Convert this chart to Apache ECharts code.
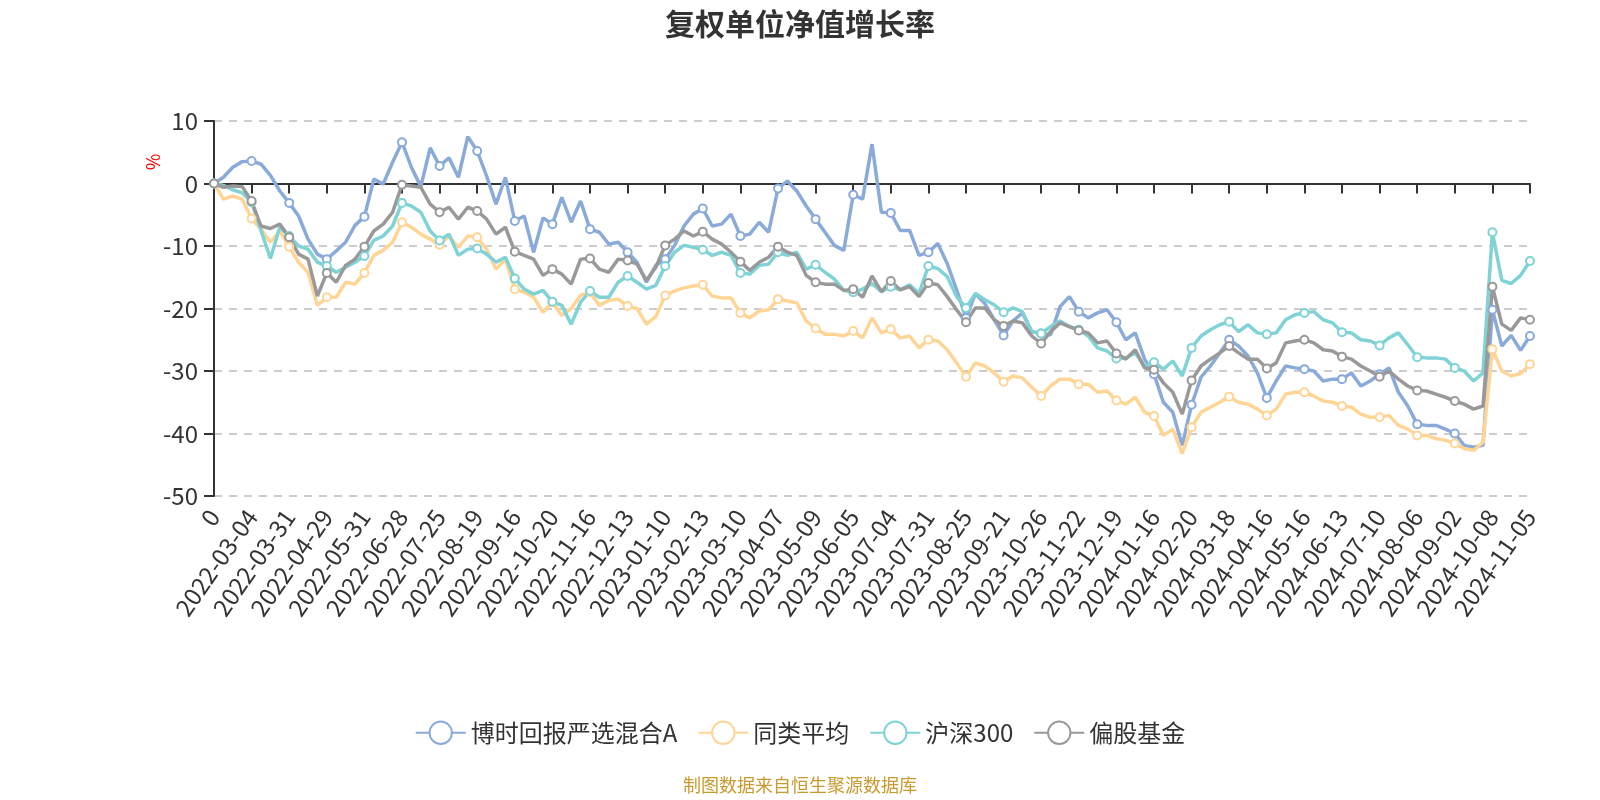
<!DOCTYPE html>
<html>
<head>
<meta charset="utf-8">
<title>复权单位净值增长率</title>
<script src="https://cdn.jsdelivr.net/npm/echarts@6/dist/echarts.min.js"></script>
<style>
  html, body { margin: 0; padding: 0; background: #fff; }
  #chart { width: 1600px; height: 800px; }
</style>
</head>
<body>
<div id="chart"></div>
<script>
// trading dates, roughly one a week; every 4th one is an axis label
var dates = [
  '0', '2022-02-11', '2022-02-18', '2022-02-25',
  '2022-03-04', '2022-03-11', '2022-03-18', '2022-03-25',
  '2022-03-31', '2022-04-08', '2022-04-15', '2022-04-22',
  '2022-04-29', '2022-05-12', '2022-05-18', '2022-05-25',
  '2022-05-31', '2022-06-08', '2022-06-15', '2022-06-21',
  '2022-06-28', '2022-07-05', '2022-07-12', '2022-07-18',
  '2022-07-25', '2022-07-29', '2022-08-05', '2022-08-12',
  '2022-08-19', '2022-08-26', '2022-09-01', '2022-09-08',
  '2022-09-16', '2022-09-23', '2022-09-30', '2022-10-13',
  '2022-10-20', '2022-10-27', '2022-11-03', '2022-11-09',
  '2022-11-16', '2022-11-22', '2022-11-29', '2022-12-06',
  '2022-12-13', '2022-12-20', '2022-12-27', '2023-01-04',
  '2023-01-10', '2023-01-17', '2023-01-30', '2023-02-06',
  '2023-02-13', '2023-02-17', '2023-02-24', '2023-03-03',
  '2023-03-10', '2023-03-16', '2023-03-23', '2023-03-30',
  '2023-04-07', '2023-04-14', '2023-04-21', '2023-04-27',
  '2023-05-09', '2023-05-15', '2023-05-22', '2023-05-29',
  '2023-06-05', '2023-06-12', '2023-06-19', '2023-06-28',
  '2023-07-04', '2023-07-11', '2023-07-18', '2023-07-25',
  '2023-07-31', '2023-08-07', '2023-08-11', '2023-08-18',
  '2023-08-25', '2023-09-01', '2023-09-07', '2023-09-14',
  '2023-09-21', '2023-09-28', '2023-10-13', '2023-10-19',
  '2023-10-26', '2023-11-02', '2023-11-08', '2023-11-15',
  '2023-11-22', '2023-11-29', '2023-12-05', '2023-12-12',
  '2023-12-19', '2023-12-26', '2024-01-02', '2024-01-09',
  '2024-01-16', '2024-01-23', '2024-01-30', '2024-02-06',
  '2024-02-20', '2024-02-27', '2024-03-04', '2024-03-11',
  '2024-03-18', '2024-03-25', '2024-04-01', '2024-04-09',
  '2024-04-16', '2024-04-23', '2024-04-30', '2024-05-09',
  '2024-05-16', '2024-05-23', '2024-05-30', '2024-06-06',
  '2024-06-13', '2024-06-20', '2024-06-27', '2024-07-03',
  '2024-07-10', '2024-07-17', '2024-07-23', '2024-07-30',
  '2024-08-06', '2024-08-13', '2024-08-19', '2024-08-26',
  '2024-09-02', '2024-09-09', '2024-09-13', '2024-09-24',
  '2024-10-08', '2024-10-15', '2024-10-22', '2024-10-29',
  '2024-11-05'
];

// 博时回报严选混合A
var fundA = [
  0, 1, 2.6, 3.5, 3.6, 3.1, 1.3, -1.2, -3.1, -5.2, -8.9, -11.3, -12.1, -10.8, -9.4, -6.7, -5.3, 0.7, -0.1, 3.4, 6.6, 2.6, -0.5, 5.7, 2.8,
  4.1, 1, 7.5, 5.2, 1.2, -3.3, 1, -6, -5.2, -11, -5.5, -6.5, -2.2, -6.2, -2.8, -7.3, -7.8, -9.7, -9.4, -11, -12.6, -15.8, -13.1,
  -12.1, -9.9, -6.8, -4.9, -4, -6.8, -6.5, -4.9, -8.4, -8.1, -6.2, -7.8, -0.8, 0.4, -1.2, -3.6, -5.7, -7.8, -9.9, -10.7, -1.8, -2.5, 6.3,
  -4.6, -4.7, -7.5, -7.5, -11.5, -11, -9.6, -12.8, -17, -21.5, -17.6, -19.2, -21.8, -24.3, -22, -20.7, -23.7, -24, -24.2, -19.7, -18.1, -20.5, -21.5,
  -20.7, -20.2, -22.2, -25, -23.9, -28.1, -30.5, -35, -36.6, -41.9, -35.4, -31, -29.2, -27.1, -25, -26, -27.6, -30.3, -34.3, -31.6, -29.2, -29.5,
  -29.7, -30, -31.6, -31.3, -31.3, -30.3, -32.4, -31.6, -30.5, -29.5, -33.4, -35.6, -38.5, -38.7, -38.7, -39.3, -40, -41.9, -42.2, -41.9, -20.2, -26, -24.3, -26.7, -24.4
];

// 同类平均
var peerAvg = [
  0, -2.5, -2, -2.5, -5.6, -7.3, -9.4, -7.6, -10.1, -12.6, -14.2, -19.5, -18.2, -18.2, -15.8, -16.1, -14.3, -11.5, -10.7, -9.4, -6.2, -7, -8.1, -8.9, -9.8,
  -8.4, -10.2, -8.4, -8.6, -10.5, -13.7, -12.1, -16.9, -17.4, -18.2, -20.6, -19, -21.1, -20, -17.9, -17.4, -19.5, -18.7, -18.5, -19.6, -20, -22.5, -21.3,
  -17.9, -17.2, -16.7, -16.4, -16.2, -18, -18.3, -18.3, -20.7, -21.5, -20.4, -20.2, -18.5, -18.8, -19.1, -22, -23.2, -24.1, -24.1, -24.4, -23.6, -24.7, -21.5,
  -23.9, -23.3, -24.7, -24.4, -26.3, -25, -25.2, -26.6, -28.7, -30.9, -28.7, -29.2, -30.3, -31.7, -30.8, -31.1, -32.6, -34, -32.4, -31.3, -31.3, -32.1, -32.1,
  -33.4, -33.2, -34.7, -35.3, -34.2, -36.6, -37.2, -40.3, -39.3, -43.2, -39, -36.6, -35.8, -35, -34.1, -35, -35.3, -36.1, -37.1, -36.1, -33.7, -33.4,
  -33.4, -34, -34.8, -35, -35.6, -35.8, -36.9, -37.4, -37.4, -37.1, -38.7, -39.3, -40.3, -40.3, -40.8, -41.1, -41.6, -42.4, -42.7, -41.4, -26.5, -30, -30.8, -30.4, -28.9
];

// 沪深300
var hs300 = [
  0, -0.3, -1, -1.5, -3, -7.5, -12, -7, -8.4, -10, -10.5, -12.6, -13.2, -14.2, -13.4, -12.6, -11.6, -9.1, -8.4, -6.8, -3.1, -3.6, -4.6, -7.6, -9.1,
  -8.1, -11.5, -10.5, -10.4, -11.3, -12.6, -11.8, -15.2, -16.9, -17.7, -17.1, -18.9, -19.5, -22.5, -19, -17.2, -18.2, -18.2, -15.8, -14.8, -15.8, -16.9, -16.3,
  -13.2, -11, -9.9, -10.2, -10.6, -11.5, -11, -11.5, -14.3, -14.5, -13.1, -12.9, -11, -11.5, -11, -13.7, -13, -14.2, -15.3, -17.1, -17.4, -16.9, -16,
  -17.3, -16.5, -17, -16.2, -17.6, -13.2, -13.6, -14.9, -18.1, -19.9, -17.6, -18.6, -19.4, -20.6, -19.9, -20.5, -23.7, -24, -22.9, -22, -22.9, -23.4, -24.4,
  -26.3, -26.8, -28, -27.9, -27.1, -29.2, -28.6, -29.7, -28.4, -30.8, -26.3, -24.4, -23.4, -22.6, -22.1, -23.7, -22.6, -23.9, -24.1, -23.9, -21.8, -21,
  -20.7, -20.5, -21.8, -22.3, -23.8, -23.9, -25, -25.2, -25.9, -24.7, -23.9, -25.8, -27.8, -27.9, -27.9, -28.1, -29.5, -30, -31.6, -30.3, -7.8, -15.5, -16, -14.7, -12.4
];

// 偏股基金
var stockFunds = [
  0, -0.6, -0.4, -0.5, -2.8, -6.8, -7.2, -6.5, -8.6, -11.3, -12.1, -18, -14.3, -15.8, -13.1, -12.1, -10.1, -7.6, -6.5, -4.6, -0.2, -0.4, -0.6, -3.3, -4.6,
  -3.8, -5.7, -3.8, -4.4, -5.7, -8.1, -7, -10.9, -11.5, -12.1, -14.7, -13.7, -14.5, -16.1, -12.1, -12, -13.7, -14.2, -12.1, -12.3, -12.9, -15.5, -13.4,
  -9.9, -8.9, -7.6, -8.4, -7.7, -8.9, -9.7, -11, -12.5, -13.9, -12.6, -11.8, -10.1, -11, -11.5, -14.7, -15.8, -16.1, -16.1, -17.1, -16.9, -18.2, -14.8,
  -17.3, -15.6, -17, -16.5, -18.1, -15.9, -16.2, -18.1, -20.2, -22.2, -19.9, -19.9, -21.8, -22.8, -22, -22.3, -24.4, -25.6, -23.7, -22.3, -22.9, -23.5, -23.9,
  -25.5, -25.2, -27.2, -28.1, -26.6, -29.5, -29.8, -31.9, -33.4, -36.9, -31.5, -29.2, -28.1, -27.1, -26, -27.1, -28.1, -28.1, -29.6, -28.7, -25.5, -25.2,
  -25, -25.5, -26.6, -26.8, -27.7, -28.1, -29.2, -30, -30.9, -30, -31.3, -32.4, -33.1, -33.2, -33.7, -34.2, -34.8, -35.3, -36.1, -35.6, -16.5, -22.5, -23.5, -21.5, -21.8
];

var names = ['博时回报严选混合A', '同类平均', '沪深300', '偏股基金'];
var colors = ['#8aaad9', '#ffd596', '#7fd3d6', '#999999'];
var values = [fundA, peerAvg, hs300, stockFunds];

var font = '"Noto Sans CJK SC", "Noto Sans", sans-serif';

function makeLine(i) {
  return {
    name: names[i],
    type: 'line',
    data: values[i],
    symbol: 'emptyCircle',
    symbolSize: 8,
    color: colors[i],
    lineStyle: { width: 3.5, color: colors[i] },
    itemStyle: { color: colors[i], borderWidth: 2 }
  };
}

var series = [];
for (var i = 0; i < names.length; i++) {
  series.push(makeLine(i));
}

echarts.init(document.getElementById('chart')).setOption({
  animation: false,
  textStyle: { fontFamily: font },
  title: {
    text: '复权单位净值增长率',
    left: 'center',
    top: 4,
    textStyle: { fontSize: 30, fontWeight: 'bold', color: '#333', fontFamily: font }
  },
  tooltip: { trigger: 'axis' },
  legend: {
    data: names,
    bottom: 50,
    itemWidth: 50,
    itemHeight: 28,
    itemGap: 20,
    textStyle: { fontSize: 24, color: '#333', fontFamily: font }
  },
  grid: { left: 214, right: 70, top: 121, bottom: 304 },
  xAxis: [
    {
      type: 'category',
      data: dates,
      boundaryGap: false,
      position: 'bottom',
      axisLine: { show: false, onZero: false },
      axisTick: { show: false },
      axisLabel: {
        interval: 3,
        rotate: 55,
        margin: 16,
        fontSize: 24,
        color: '#333',
        fontFamily: font
      }
    },
    {
      type: 'category',
      data: dates,
      boundaryGap: false,
      position: 'bottom',
      axisLine: { show: true, onZero: true, lineStyle: { color: '#333', width: 2 } },
      axisTick: { show: true, interval: 3, length: 10, lineStyle: { color: '#333', width: 2 } },
      axisLabel: { show: false, interval: 3 },
      splitLine: { show: false }
    }
  ],
  yAxis: {
    type: 'value',
    min: -50,
    max: 10,
    interval: 10,
    axisLine: { show: true, lineStyle: { color: '#333', width: 2 } },
    axisTick: { show: true, length: 10, lineStyle: { color: '#333', width: 2 } },
    axisLabel: { fontSize: 24, color: '#333', margin: 16, fontFamily: font },
    splitLine: { lineStyle: { type: [8, 7], color: '#ccc', width: 2 } }
  },
  graphic: [
    {
      type: 'text',
      x: 153,
      y: 162,
      rotation: Math.PI / 2,
      style: { text: '%', fill: '#ff0000', fontSize: 18, align: 'center', verticalAlign: 'middle', fontFamily: font }
    },
    {
      type: 'text',
      left: 'center',
      top: 776,
      style: { text: '制图数据来自恒生聚源数据库', fill: '#c99a2e', fontSize: 18, fontFamily: font }
    }
  ],
  series: series
});
</script>
</body>
</html>
